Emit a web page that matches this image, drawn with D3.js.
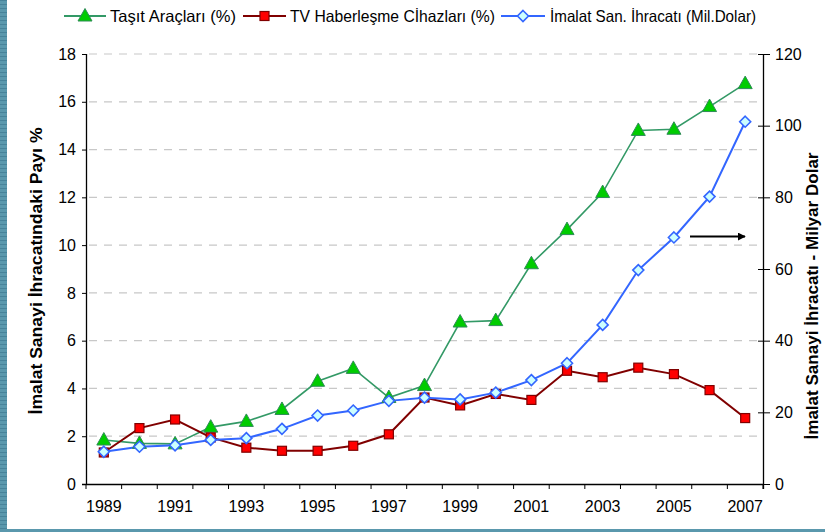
<!DOCTYPE html>
<html><head><meta charset="utf-8">
<script src="https://cdn.jsdelivr.net/npm/d3@7"></script>
<style>body{margin:0;background:#fff}svg{display:block}text{font-family:"Liberation Sans",Arial,sans-serif;fill:#000}</style>
</head><body><svg id="c" width="825" height="532"></svg>
<script>
const years = [1989,1990,1991,1992,1993,1994,1995,1996,1997,1998,1999,2000,2001,2002,2003,2004,2005,2006,2007];
const tasit = [1.84,1.7,1.68,2.38,2.62,3.12,4.3,4.84,3.62,4.12,6.78,6.84,9.22,10.65,12.2,14.8,14.85,15.8,16.76];
const tv = [1.32,2.34,2.7,1.95,1.52,1.39,1.39,1.6,2.08,3.62,3.29,3.77,3.52,4.74,4.47,4.87,4.6,3.93,2.76];
const imalat = [9.0,10.4,10.8,12.3,12.8,15.4,19.1,20.5,23.2,24.1,23.6,25.5,29.0,33.7,44.4,59.7,68.8,80.2,101.1];
const leftTicks = [0,2,4,6,8,10,12,14,16,18];
const rightTicks = [0,20,40,60,80,100,120];
const xLabels = [1989,1991,1993,1995,1997,1999,2001,2003,2005,2007];
const legendLabels = ["Taşıt Araçları (%)","TV Haberleşme Cİhazları (%)","İmalat San. İhracatı (Mil.Dolar)"];

const svg = d3.select("#c");
const L=86,R=763,T=54,B=484;
// frame strips
const defs = svg.append("defs");
const pat = defs.append("pattern").attr("id","st").attr("width",8).attr("height",4).attr("patternUnits","userSpaceOnUse");
pat.append("rect").attr("width",8).attr("height",4).attr("fill","#5a98ad");
pat.append("rect").attr("width",8).attr("height",1).attr("fill","#47839a");
svg.append("rect").attr("x",0).attr("y",0).attr("width",7).attr("height",532).attr("fill","url(#st)");
svg.append("rect").attr("x",0).attr("y",529).attr("width",825).attr("height",3).attr("fill","#5a98ad");

const x = d3.scaleBand().domain(years).range([L,R]);
const yL = d3.scaleLinear().domain([0,18]).range([B,T]);
const yR = d3.scaleLinear().domain([0,120]).range([B,T]);
const cx = d => x(d)+x.bandwidth()/2;

// grid
svg.append("g").selectAll("line").data(leftTicks.filter(d=>d>0)).join("line")
  .attr("x1",L+3).attr("x2",R).attr("y1",d=>yL(d)).attr("y2",d=>yL(d))
  .attr("stroke","#c8c8c8").attr("stroke-width",1.2).attr("stroke-dasharray","8,7");

// left axis
const gl = svg.append("g").attr("transform",`translate(${L},0)`)
  .call(d3.axisLeft(yL).tickValues(leftTicks).tickSize(4).tickPadding(6));
// right axis
const gr = svg.append("g").attr("transform",`translate(${R},0)`)
  .call(d3.axisRight(yR).tickValues(rightTicks).tickSize(7).tickPadding(5));
gr.selectAll(".tick line").attr("x1",-5);
// bottom axis
const gb = svg.append("g").attr("transform",`translate(0,${B})`)
  .call(d3.axisBottom(x).tickValues(xLabels).tickSize(0).tickPadding(17));
const bounds = years.map(d=>x(d)).concat([R]);
svg.append("g").selectAll("line").data(bounds).join("line")
  .attr("x1",d=>d).attr("x2",d=>d).attr("y1",B).attr("y2",B+5).attr("stroke","#000");
[gl,gr,gb].forEach(g=>{
  g.selectAll(".domain").attr("stroke","#000").attr("stroke-width",1.3);
  g.selectAll(".tick line").attr("stroke","#000");
  g.selectAll("text").style("font-size","16px").style("font-family","'Liberation Sans',Arial,sans-serif");
});
gb.select(".domain").attr("d",`M${L-4},0.5H${R}`);
gl.select(".domain").attr("d",`M0.5,${T}V${B}`);
gr.select(".domain").attr("d",`M0.5,${T}V${B+5}`);

// axis titles
svg.append("text").attr("transform","translate(42,271) rotate(-90)").attr("text-anchor","middle")
  .attr("textLength",287).attr("lengthAdjust","spacingAndGlyphs")
  .style("font-weight","bold").style("font-size","16px").text("İmalat Sanayi İhracatındaki Payı %");
svg.append("text").attr("transform","translate(818,296) rotate(-90)").attr("text-anchor","middle")
  .attr("textLength",287).attr("lengthAdjust","spacingAndGlyphs")
  .style("font-weight","bold").style("font-size","16px").text("İmalat Sanayi İhracatı - Milyar Dolar");

// series
const series = [
  {vals:tasit, y:yL, line:"#339966", w:1.6, fill:"#00cc00", stroke:"#2e8b57", shape:"tri"},
  {vals:tv, y:yL, line:"#800000", w:2, fill:"#ff0000", stroke:"#800000", shape:"sq"},
  {vals:imalat, y:yR, line:"#3366ff", w:2, fill:"#ccffff", stroke:"#3366ff", shape:"dia"}
];
function marker(g,s,px,py){
  if(s.shape==="tri") g.append("path").attr("d",`M${px},${py-7.5}L${px+7},${py+5}L${px-7},${py+5}Z`).attr("fill",s.fill).attr("stroke",s.stroke).attr("stroke-width",1);
  else if(s.shape==="sq") g.append("rect").attr("x",px-4.5).attr("y",py-4.5).attr("width",9).attr("height",9).attr("fill",s.fill).attr("stroke",s.stroke).attr("stroke-width",1.2);
  else g.append("path").attr("d",`M${px},${py-5.5}L${px+5.5},${py}L${px},${py+5.5}L${px-5.5},${py}Z`).attr("fill",s.fill).attr("stroke",s.stroke).attr("stroke-width",1.6);
}
series.forEach(s=>{
  svg.append("path").datum(s.vals).attr("fill","none").attr("stroke",s.line).attr("stroke-width",s.w)
    .attr("d",d3.line().x((d,i)=>cx(years[i])).y(d=>s.y(d)));
});
series.forEach(s=>{
  const g=svg.append("g");
  s.vals.forEach((v,i)=>marker(g,s,cx(years[i]),s.y(v)));
});

// arrow
svg.append("defs").append("marker").attr("id","ah").attr("viewBox","0 0 10 10").attr("refX",9).attr("refY",5)
  .attr("markerWidth",4).attr("markerHeight",4).attr("orient","auto")
  .append("path").attr("d","M0,0L10,5L0,10Z").attr("fill","#000");
svg.append("line").attr("x1",690).attr("x2",745).attr("y1",236.5).attr("y2",236.5)
  .attr("stroke","#000").attr("stroke-width",2).attr("marker-end","url(#ah)");

// legend
const leg = [{x0:64,x1:106,tx:110,tl:126},{x0:243,x1:286,tx:290,tl:205},{x0:501,x1:545,tx:550,tl:206}];
leg.forEach((l,i)=>{
  const s=series[i];
  svg.append("line").attr("x1",l.x0).attr("x2",l.x1).attr("y1",16).attr("y2",16).attr("stroke",s.line).attr("stroke-width",2);
  marker(svg.append("g"),s,(l.x0+l.x1)/2,16);
  svg.append("text").attr("x",l.tx).attr("y",22).attr("textLength",l.tl).attr("lengthAdjust","spacingAndGlyphs")
    .style("font-size","16.5px").text(legendLabels[i]);
});
</script></body></html>
